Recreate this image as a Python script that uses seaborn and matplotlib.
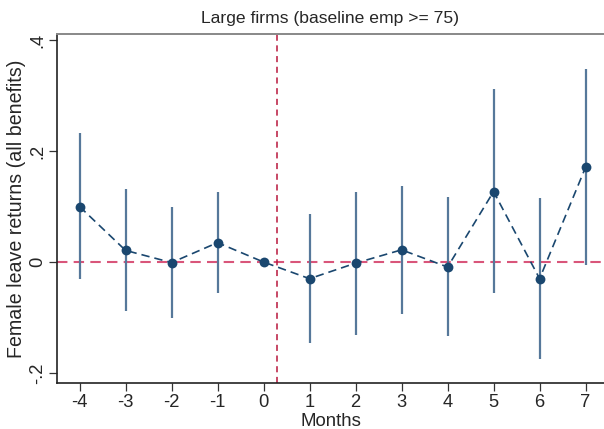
import matplotlib
matplotlib.use("Agg")
import matplotlib.pyplot as plt
import seaborn as sns
import pandas as pd
import numpy as np

months = [-4, -3, -2, -1, 0, 1, 2, 3, 4, 5, 6, 7]
coef = [0.100, 0.021, -0.001, 0.035, 0.0, -0.030, -0.002, 0.022, -0.009, 0.127, -0.030, 0.171]
ci_low = [-0.031, -0.088, -0.101, -0.055, 0.0, -0.146, -0.131, -0.094, -0.134, -0.056, -0.174, -0.006]
ci_high = [0.232, 0.131, 0.099, 0.127, 0.0, 0.087, 0.126, 0.137, 0.117, 0.311, 0.115, 0.348]
ytick_vals = [-0.2, 0, 0.2, 0.4]
ytick_labels = ["-.2", "0", ".2", ".4"]
event_line_x = 0.3

df = pd.DataFrame({"month": months, "coef": coef, "lo": ci_low, "hi": ci_high})

sns.set_style("white")
plt.rcParams["font.family"] = ["Liberation Sans", "DejaVu Sans"]

fig = plt.figure(figsize=(6.04, 4.29), dpi=100)
ax = fig.add_axes([57 / 604, 1 - 383 / 429, 1 - 57 / 604, (383 - 34) / 429])

navy = "#1a476f"
ci_col = "#56789a"

ci = df[df["lo"] != df["hi"]]
ax.vlines(ci["month"], ci["lo"], ci["hi"], color=ci_col, lw=1.6, zorder=2)
ax.axhline(0, color="#d9557a", lw=1.5, ls=(0, (5, 3)), zorder=1)
ax.axvline(event_line_x, color="#b8163c", lw=1.1, ls=(0, (4, 3)), zorder=1)
sns.lineplot(data=df, x="month", y="coef", ax=ax, color=navy, lw=1.2,
             linestyle=(0, (5, 3)), zorder=3)
sns.scatterplot(data=df, x="month", y="coef", ax=ax, color=navy, s=50,
                edgecolor=navy, linewidth=0, zorder=4)

ax.set_xlim(-4.49, 7.40)
ax.set_ylim(-0.218, 0.411)
ax.set_xticks(months)
ax.set_xticklabels([str(m) for m in months], fontsize=13.2)
ax.set_yticks(ytick_vals)
ax.set_yticklabels(ytick_labels, fontsize=13.2, rotation=90, va="center")
ax.tick_params(axis="both", direction="out", length=6, width=0.9, color="#333333",
               left=True, bottom=True, pad=2)
ax.set_xlabel("Months", fontsize=13.4, labelpad=1)
ax.set_ylabel("Female leave returns (all benefits)", fontsize=14.1)
ax.yaxis.set_label_coords(-0.056, 0.5)
ax.set_title("Large firms (baseline emp >= 75)", fontsize=12.6, pad=8)

for s in ["left", "bottom"]:
    ax.spines[s].set_color("#222222")
    ax.spines[s].set_linewidth(1.2)
ax.spines["top"].set_color("#888888")
ax.spines["top"].set_linewidth(1.4)
ax.spines["right"].set_visible(False)

fig.savefig("out.png", dpi=100)
